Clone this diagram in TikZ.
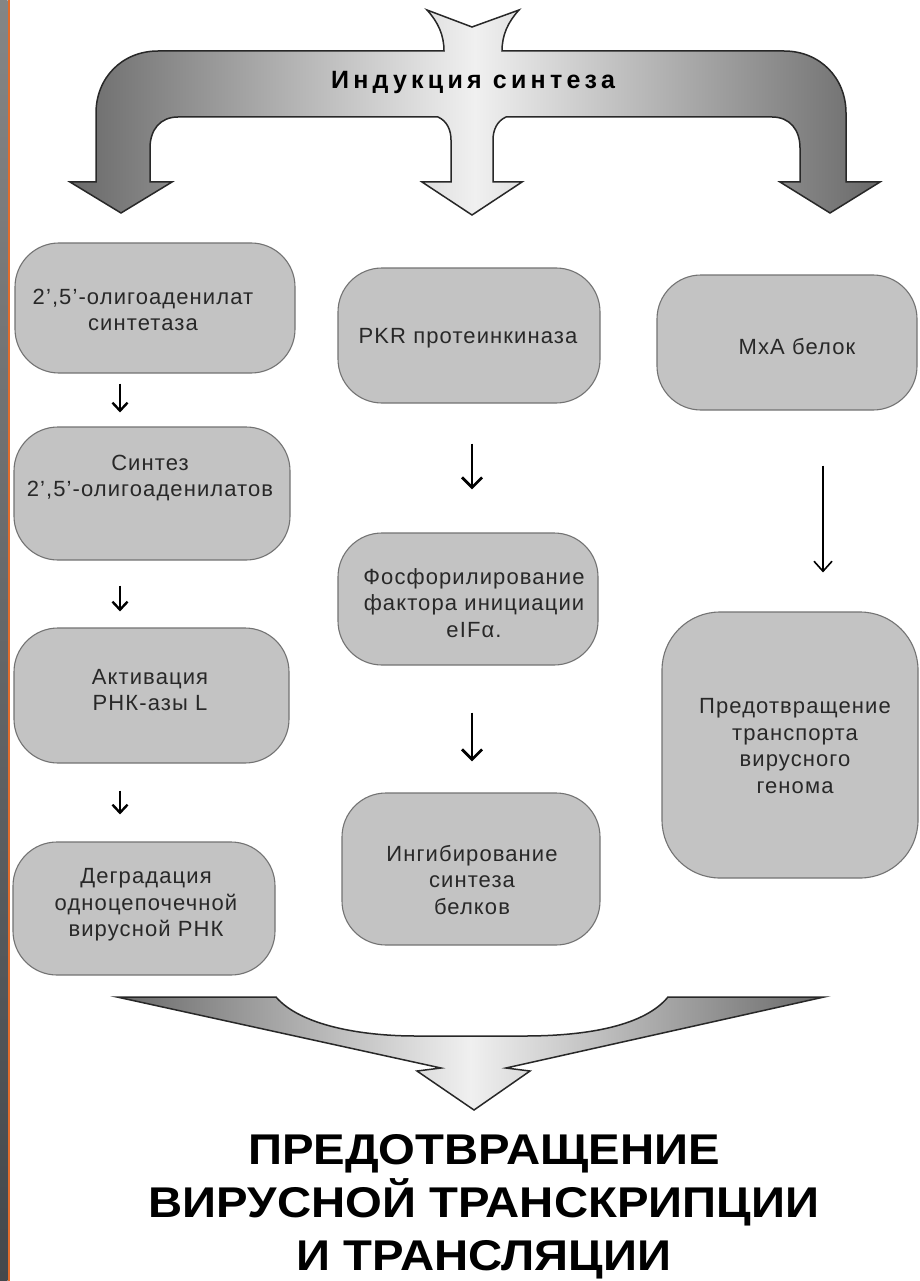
\documentclass[tikz,border=0pt]{standalone}
\usepackage{fontspec}
\setmainfont{Liberation Sans}
\usetikzlibrary{arrows.meta}
\definecolor{boxfill}{RGB}{195,195,195}
\definecolor{boxline}{RGB}{115,115,115}
\definecolor{txtcol}{RGB}{40,40,40}
\definecolor{darkend}{RGB}{105,105,105}
\definecolor{lightmid}{RGB}{240,240,240}
\definecolor{stripetop}{RGB}{133,133,133}
\definecolor{stripebot}{RGB}{68,72,76}
\definecolor{orangeline}{RGB}{226,108,44}
\tikzset{
  box/.style={draw=boxline, line width=1.1pt, fill=boxfill, rounded corners=44pt, inner sep=0pt},
  txt/.style={text=txtcol, align=center, inner sep=0pt, font=\fontsize{22}{26.5}\selectfont\addfontfeatures{LetterSpace=5}},
  bigshape/.style={draw={rgb,255:red,40;green,40;blue,40}, line width=1.5pt, line join=miter, left color=darkend, right color=darkend, middle color=lightmid},
  arrL/.style={line width=2.4pt, -{Straight Barb[length=8pt,width=15pt,line width=2.4pt]}},
  arrM/.style={line width=2.8pt, -{Straight Barb[length=10pt,width=20pt,line width=2.8pt]}},
  arrR/.style={line width=1.4pt, -{Straight Barb[length=10pt,width=18pt,line width=1.6pt]}},
}
\begin{document}
\begin{tikzpicture}[x=1pt,y=-1pt]
\useasboundingbox (0,0) rectangle (919,1281);
\fill[white] (0,0) rectangle (919,1281);
% left stripe
\shade[top color=stripetop, bottom color=stripebot] (0,0) rectangle (7.5,1281);
\fill[orangeline] (7.5,0) rectangle (10,1281);

% top branching arrow
\path[bigshape] (427,10) -- (472,27) -- (519,10)
  .. controls (508,22) and (502,35) .. (502,51)
  -- (784,51) .. controls (820,51) and (846,78) .. (846,113)
  -- (846,182) -- (880,182) -- (830,213) -- (780,182) -- (800,182)
  -- (800,148) .. controls (800,130) and (790,117) .. (772,117)
  -- (506,117) .. controls (497,121) and (493,130) .. (493,140)
  -- (493,182) -- (522,182) -- (472,215) -- (422,182) -- (451,182)
  -- (451,140) .. controls (451,130) and (447,121) .. (438,117)
  -- (178,117) .. controls (160,117) and (150,130) .. (150,148)
  -- (150,182) -- (172,182) -- (121,213) -- (70,182) -- (96,182)
  -- (96,113) .. controls (96,78) and (122,51) .. (158,51)
  -- (444,51) .. controls (444,35) and (438,22) .. (427,10) -- cycle;
\node[text=black, inner sep=0pt, font=\fontsize{25}{29}\selectfont\bfseries\addfontfeatures{LetterSpace=17}] (induct) at (473,82) {Индукция синтеза};

% column x positions for the small arrows
\coordinate (cL) at (120,0);
\coordinate (cM) at (472,0);
\coordinate (cR) at (823,0);

% left column
\node[box, minimum width=280pt, minimum height=130pt] (b1) at (155,308) {};
\node[txt] (t1) at (143,310) {2',5'-олигоаденилат\\синтетаза};
\node[box, minimum width=276pt, minimum height=133pt] (b2) at (152,493.5) {};
\node[txt] (t2) at (150,478) {Синтез\\2',5'-олигоаденилатов};
\node[box, minimum width=275pt, minimum height=135pt] (b3) at (151.5,695.5) {};
\node[txt] (t3) at (150,690) {Активация\\РНК-азы L};
\node[box, minimum width=262pt, minimum height=133pt] (b4) at (144,908.5) {};
\node[txt] (t4) at (146,905) {Деградация\\одноцепочечной\\вирусной РНК};

% middle column
\node[box, minimum width=262pt, minimum height=135pt] (b5) at (469,335.5) {};
\node[txt] (t5) at (468,338) {PKR протеинкиназа};
\node[box, minimum width=260pt, minimum height=132pt] (b6) at (468,599) {};
\node[txt] (t6) at (474,603) {Фосфорилирование\\фактора инициации\\eIFα.};
\node[box, minimum width=258pt, minimum height=152pt] (b7) at (471,869) {};
\node[txt] (t7) at (472,880) {Ингибирование\\синтеза\\белков};

% right column
\node[box, minimum width=260pt, minimum height=135pt] (b8) at (787,342.5) {};
\node[txt] (t8) at (797,347) {MxA белок};
\node[box, rounded corners=58pt, minimum width=256pt, minimum height=266pt] (b9) at (790,745) {};
\node[txt] (t9) at (795,746) {Предотвращение\\транспорта\\вирусного\\генома};

% small arrows
\draw[arrL, shorten <=10pt, shorten >=14pt] (b1.south -| cL) -- (b2.north -| cL);
\draw[arrL, shorten <=25pt, shorten >=16pt] (b2.south -| cL) -- (b3.north -| cL);
\draw[arrL, shorten <=27pt, shorten >=27pt] (b3.south -| cL) -- (b4.north -| cL);
\draw[arrM, shorten <=40pt, shorten >=43pt] (b5.south -| cM) -- (b6.north -| cM);
\draw[arrM, shorten <=47pt, shorten >=31pt] (b6.south -| cM) -- (b7.north -| cM);
\draw[arrR, shorten <=55pt, shorten >=39pt] (b8.south -| cR) -- (b9.north -| cR);

% bottom converging arrow
\path[bigshape] (117,997) -- (276,997)
  .. controls (300,1025) and (360,1036) .. (416,1036)
  -- (524,1036) .. controls (590,1036) and (645,1025) .. (668,997)
  -- (824,997) -- (506,1068) -- (530,1071) -- (474,1110) -- (417,1071)
  -- (441,1068) -- cycle;

\node[anchor=north, align=center, inner sep=0pt, text=black, xscale=1.1, transform shape, font=\fontsize{43}{53}\selectfont\bfseries] (result) at (484,1134) {ПРЕДОТВРАЩЕНИЕ\\ВИРУСНОЙ ТРАНСКРИПЦИИ\\И ТРАНСЛЯЦИИ};
\end{tikzpicture}
\end{document}
